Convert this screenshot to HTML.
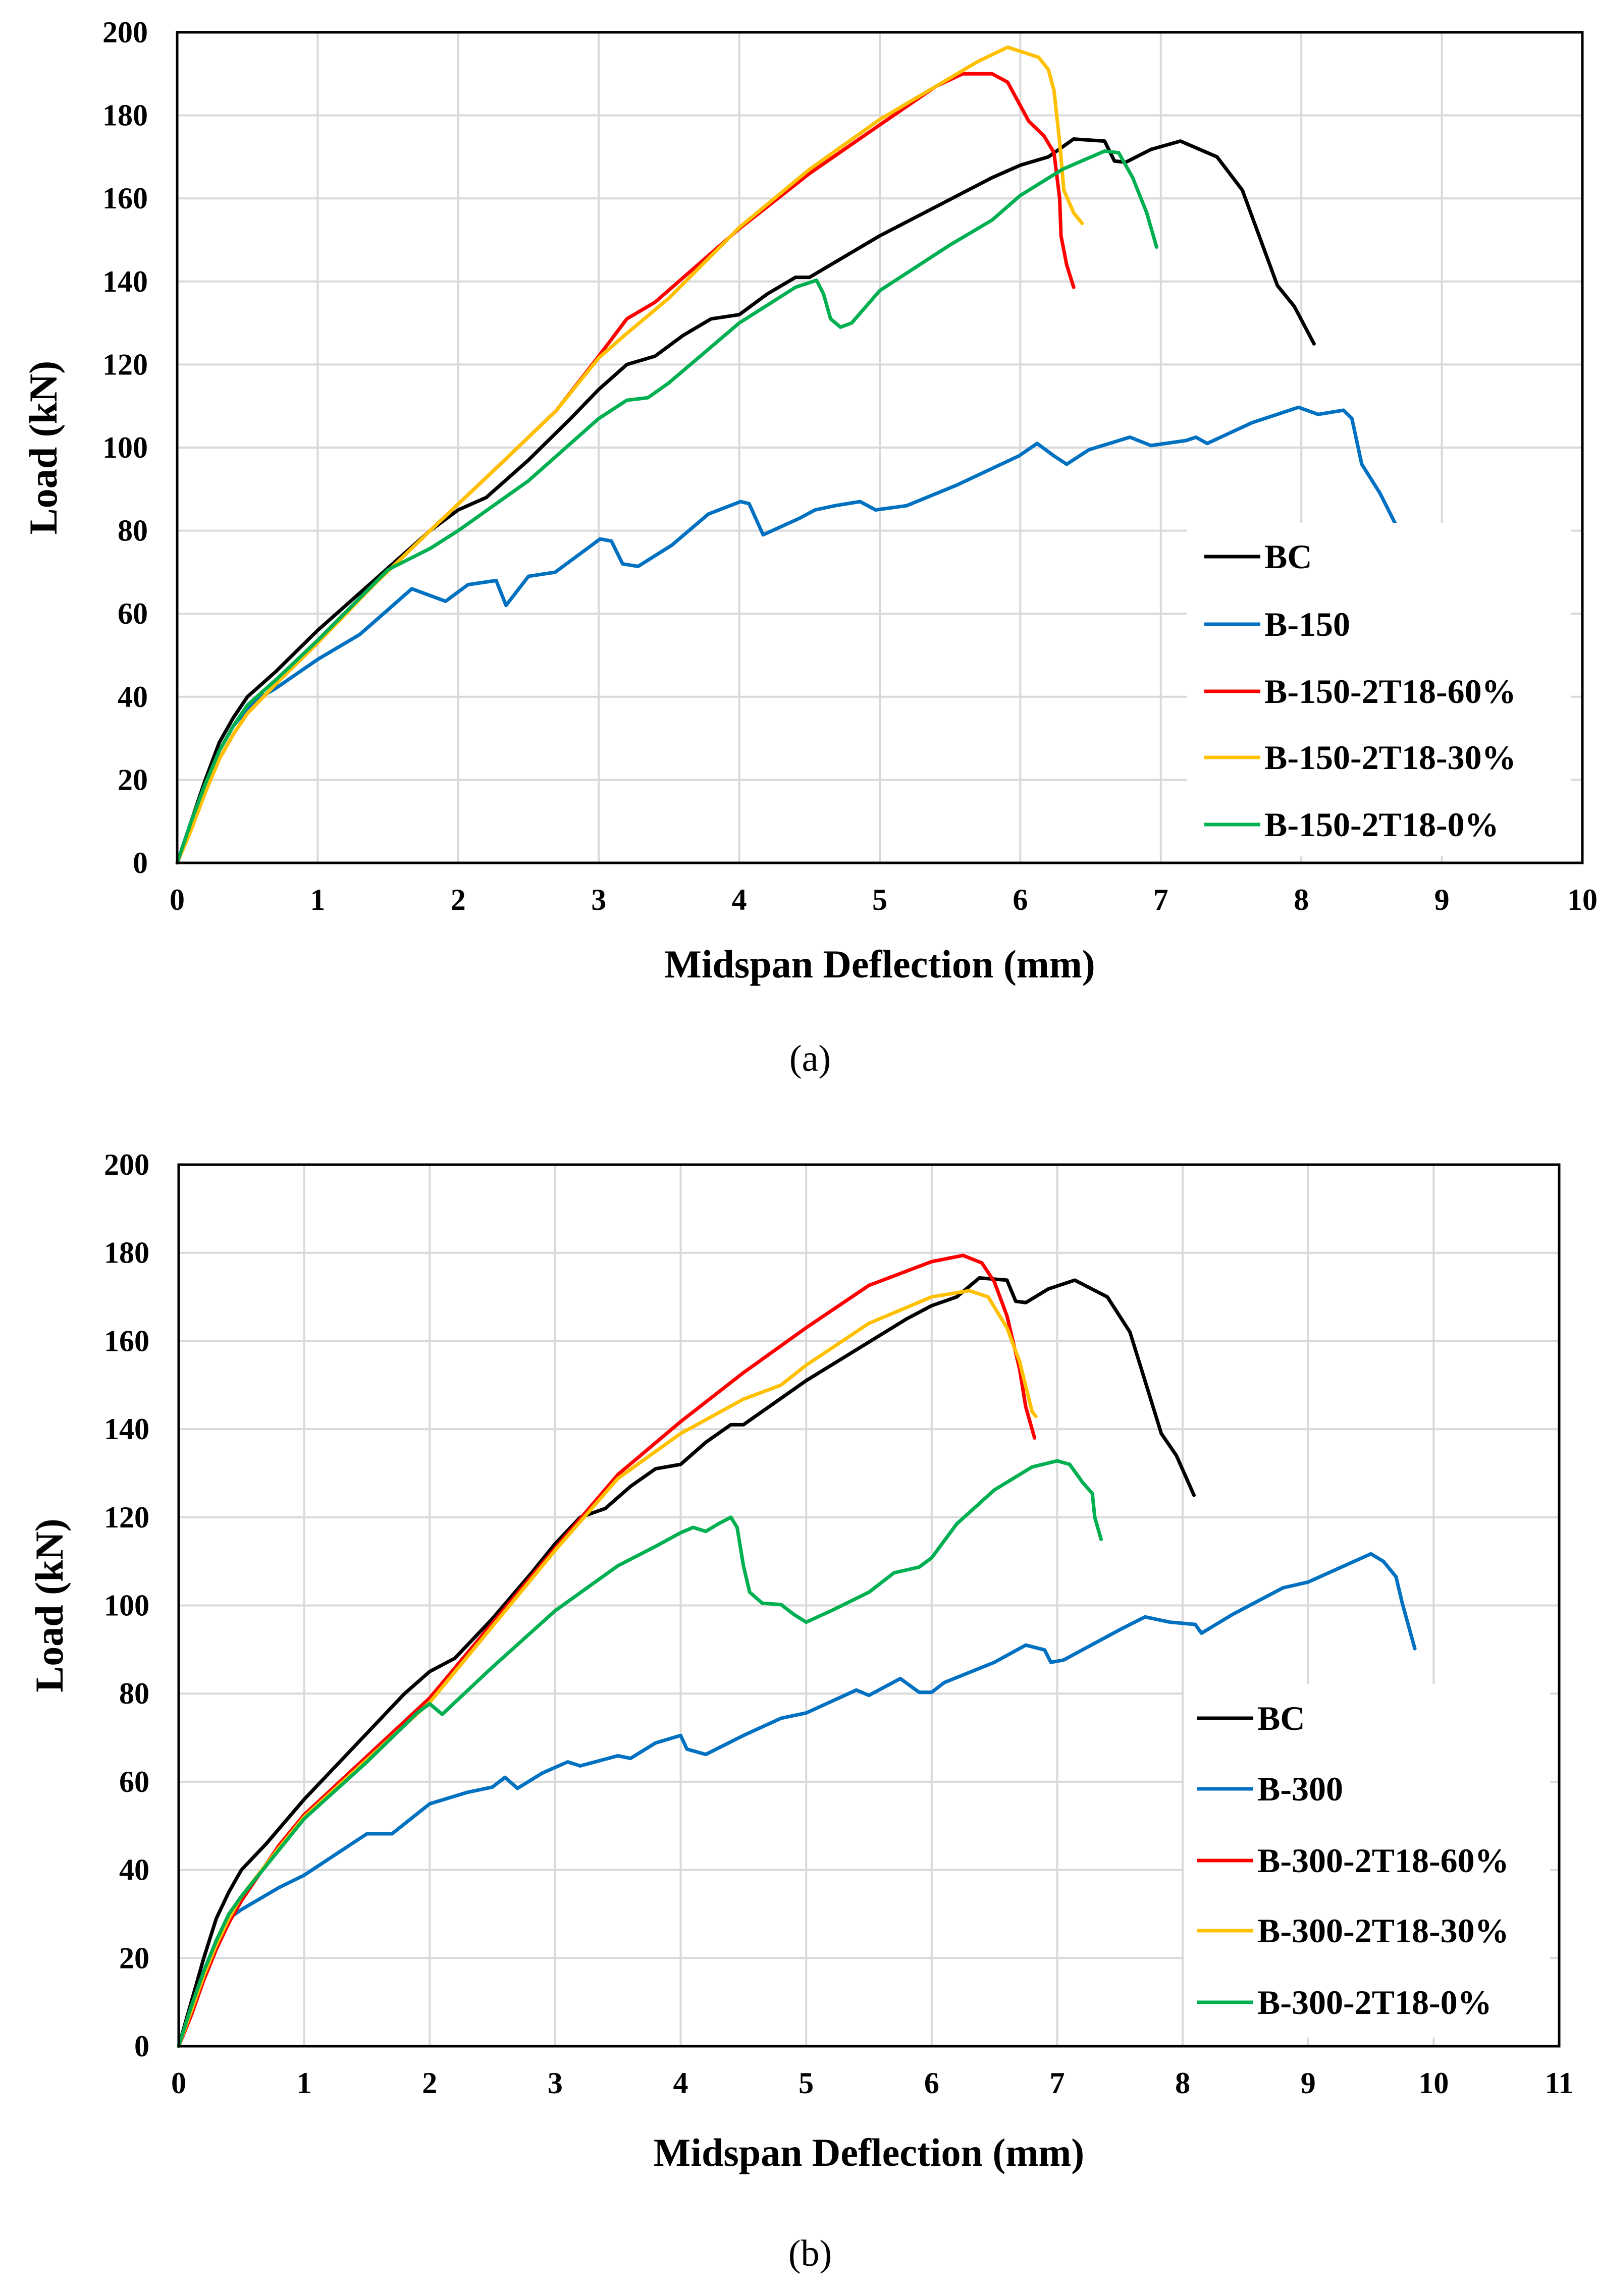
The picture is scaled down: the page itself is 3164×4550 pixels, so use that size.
<!DOCTYPE html>
<html><head><meta charset="utf-8"><style>
html,body{margin:0;padding:0;background:#fff}
svg{display:block}
text{font-family:"Liberation Serif",serif}
</style></head><body>
<svg id="fig" width="3164" height="4550" viewBox="0 0 3164 4550" xmlns="http://www.w3.org/2000/svg"></svg>
<script>
// ---------- data (x = midspan deflection mm, y = load kN) ----------
const xTicksA = [0,1,2,3,4,5,6,7,8,9,10];
const xTicksB = [0,1,2,3,4,5,6,7,8,9,10,11];
const yTicks = [0,20,40,60,80,100,120,140,160,180,200];

const bcX = [0,0.1,0.2,0.3,0.4,0.5,0.7,1,1.4,1.8,2,2.2,2.5,2.8,3,3.2,3.4,3.6,3.8,4,4.2,4.4,4.5,4.6,5,5.4,5.8,6,6.2,6.38,6.6,6.67,6.75,6.93,7.14,7.4,7.58,7.83,7.95,8.09];
const bcY = [0,10,20,29,35,40,46,56,68,80,85,88,97,107,114,120,122,127,131,132,137,141,141,143,151,158,165,168,170,174.3,173.8,169,168.7,171.8,173.8,170,162,139,134,125];

const b150X = [0,0.1,0.2,0.3,0.4,0.5,0.6,0.7,1,1.3,1.67,1.91,2.07,2.27,2.34,2.5,2.69,3.01,3.09,3.17,3.28,3.52,3.78,4.01,4.07,4.17,4.43,4.54,4.68,4.86,4.97,5.19,5.55,5.99,6.12,6.24,6.33,6.49,6.78,6.93,7.18,7.25,7.33,7.65,7.98,8.12,8.3,8.36,8.43,8.56,8.67];
const b150Y = [0,10,19,27,33,37,40,42,49,55,66,63,67,68,62,69,70,78,77.5,72,71.4,76.5,84,87,86.5,79,83,85,86,87,85,86,91,98,101,98,96,99.5,102.5,100.5,101.7,102.5,101,106,109.7,108,109,107,96,89,81.6];

const r150X = [0,0.1,0.2,0.3,0.4,0.5,0.7,1,1.4,1.8,2.3,2.7,3,3.2,3.4,4,4.5,5,5.4,5.59,5.8,5.91,5.99,6.06,6.17,6.24,6.28,6.29,6.33,6.38];
const r150Y = [0,8,17,25,31,36,43,53,67,80,96,109,122,131,135,152.7,166,177.7,187,190,190,188,183,178.6,175,171,160,151,144,138.6];

const y150X = [0,0.1,0.2,0.3,0.4,0.5,0.7,1,1.4,1.8,2.3,2.7,3,3.2,3.5,4,4.5,5,5.4,5.7,5.91,6.13,6.2,6.24,6.28,6.31,6.38,6.44];
const y150Y = [0,8,17,25,31,36,43,53,67,80,96,109,121.6,127.5,136,153,167,179,187,193,196.4,194,191,186,173.5,162,156.5,154];

const g150X = [0,0.1,0.2,0.3,0.4,0.5,0.7,1,1.5,1.8,2,2.5,3,3.2,3.35,3.5,4,4.4,4.55,4.6,4.65,4.72,4.8,5,5.5,5.8,6,6.3,6.6,6.7,6.8,6.9,6.97];
const g150Y = [0,10,19,27,33,38,44,53.6,70.6,75.7,80,92,107,111.4,112,115.6,130,138.6,140.3,137,131,129,130,137.8,148.8,154.8,160.7,167,171.4,171,165,156.5,148.3];

const b300X = [0,0.1,0.2,0.3,0.4,0.5,0.8,1,1.5,1.7,2,2.3,2.5,2.6,2.7,2.9,3.1,3.2,3.5,3.6,3.8,4,4.05,4.2,4.5,4.8,5,5.4,5.5,5.75,5.9,6,6.1,6.5,6.75,6.9,6.95,7.05,7.5,7.7,7.9,8.1,8.15,8.4,8.8,9,9.5,9.6,9.7,9.75,9.85];
const b300Y = [0,9,17,24,29,31,36,38.8,48.2,48.2,55,57.6,58.8,61,58.5,62,64.5,63.6,65.9,65.3,68.8,70.5,67.4,66.2,70.5,74.4,75.6,80.8,79.6,83.4,80.3,80.3,82.5,87.1,91,89.9,87.1,87.6,94.5,97.4,96.2,95.7,93.7,98,104,105.3,111.7,110,106.5,100.5,90.2];

const r300X = [0,0.1,0.2,0.3,0.4,0.5,0.8,1,2,3,3.5,4,4.5,5,5.5,6,6.25,6.4,6.5,6.6,6.7,6.75,6.82];
const r300Y = [0,7,15,22,28,33,45.6,52.5,79,113,129.7,141.7,152.8,163,172.6,178,179.4,177.7,173.4,165.7,153.7,145,138];

const y300X = [0,0.1,0.2,0.3,0.4,0.5,0.8,1,2,3,3.5,4,4.5,4.8,5,5.5,6,6.3,6.45,6.6,6.7,6.8,6.83];
const y300Y = [0,8,16,23,29,34,45,52,78,112.5,128.8,139,146.8,150,154.5,164,170,171.4,170,163,155.4,144,142.9];

const g300X = [0,0.1,0.2,0.3,0.4,0.5,1,1.5,1.9,2,2.1,2.5,3,3.5,3.8,4,4.1,4.2,4.3,4.4,4.45,4.5,4.55,4.65,4.8,4.9,5,5.2,5.5,5.7,5.9,6,6.2,6.5,6.8,7,7.1,7.2,7.28,7.3,7.35];
const g300Y = [0,9,17,24,30,34,51.6,64.5,75.6,77.7,75.3,86,98.8,109,113.4,116.5,117.7,116.8,118.5,120,117.7,109,103,100.5,100.2,98,96.2,98.8,103,107.4,108.7,110.8,118.5,126.2,131.4,132.8,132,128,125.4,120,115];

// ---------- drawing ----------
const NS = 'http://www.w3.org/2000/svg';
const svg = document.getElementById('fig');
function mk(tag, attrs, parent){
  const e = document.createElementNS(NS, tag);
  for (const k in attrs) e.setAttribute(k, attrs[k]);
  (parent||svg).appendChild(e);
  return e;
}
const COLORS = {bc:'#000000', base:'#0070c0', r:'#ff0000', y:'#ffc000', g:'#00b050'};

function chart(cfg){
  const g = mk('g', {});
  
  
  const L=cfg.left, R=cfg.right, T=cfg.top, B=cfg.bottom;
  const xmax = cfg.xTicks[cfg.xTicks.length-1];
  const sx = v => L + (R-L)*v/xmax;
  const sy = v => B - (B-T)*v/200;
  cfg.xTicks.forEach(t => {
    if (t===0) return;
    const l = mk('line', {x1:sx(t), x2:sx(t), y1:T, y2:B, stroke:'#d9d9d9', 'stroke-width':4}, g);
    
    
  });
  yTicks.forEach(t => {
    if (t===0) return;
    const l = mk('line', {x1:L, x2:R, y1:sy(t), y2:sy(t), stroke:'#d9d9d9', 'stroke-width':4}, g);
    
    
  });
  cfg.series.forEach(s => {
    const pts = s.x.map((v,i)=> sx(v).toFixed(1)+','+sy(s.y[i]).toFixed(1)).join(' ');
    const p = mk('polyline', {points:pts, fill:'none', stroke:s.color, 'stroke-width':7, 'stroke-linejoin':'round', 'stroke-linecap':'round'}, g);
    
    
  });
  const lb = mk('rect', {x:cfg.leg.x, y:cfg.leg.y, width:cfg.leg.w, height:cfg.leg.h, fill:'#fff'}, g);
  
  
  cfg.series.forEach((s,i) => {
    const yy = cfg.leg.ys[i];
    const eg = mk('g', {}, g);
    
    
    mk('line', {x1:cfg.leg.lx1, x2:cfg.leg.lx2, y1:yy, y2:yy, stroke:s.color, 'stroke-width':7}, eg);
    const t = mk('text', {x:cfg.leg.tx, y:yy+23, 'font-size':68, 'font-weight':'bold', fill:'#000'}, eg);
    t.textContent = s.label;
  });
  const f = mk('rect', {x:L, y:T, width:R-L, height:B-T, fill:'none', stroke:'#000', 'stroke-width':5}, g);
  
  
  yTicks.forEach(t => {
    const e = mk('text', {x:L-58, y:sy(t)+20, 'font-size':60, 'font-weight':'bold', 'text-anchor':'end'}, g);
    
    
    e.textContent = t;
  });
  cfg.xTicks.forEach(t => {
    const e = mk('text', {x:sx(t), y:B+93, 'font-size':60, 'font-weight':'bold', 'text-anchor':'middle'}, g);
    
    
    e.textContent = t;
  });
  const xt = mk('text', {x:(L+R)/2, y:cfg.xTitleY, 'font-size':78, 'font-weight':'bold', 'text-anchor':'middle'}, g);
  
  
  xt.textContent = 'Midspan Deflection (mm)';
  const yc = (T+B)/2;
  const yt = mk('text', {x:0, y:0, 'font-size':78, 'font-weight':'bold', 'text-anchor':'middle', transform:'translate('+(cfg.yTitleX)+','+yc+') rotate(-90)'}, g);
  
  
  yt.textContent = 'Load (kN)';
  const cap = mk('text', {x:1605, y:cfg.capY, 'font-size':74, 'text-anchor':'middle'}, g);
  
  
  cap.textContent = cfg.caption;
}

chart({
  name:'chart-a', left:351, right:3135, top:64, bottom:1710, xTicks:xTicksA,
  xTitleY:1937, yTitleX:112, capY:2122, caption:'(a)',
  leg:{x:2352, y:1036, w:760, h:660, lx1:2386, lx2:2497, tx:2505, ys:[1103,1237,1370,1501,1634]},
  series:[
    {key:'bc', label:'BC', color:COLORS.bc, x:bcX, y:bcY},
    {key:'b-150', label:'B-150', color:COLORS.base, x:b150X, y:b150Y},
    {key:'b-150-60', label:'B-150-2T18-60%', color:COLORS.r, x:r150X, y:r150Y},
    {key:'b-150-30', label:'B-150-2T18-30%', color:COLORS.y, x:y150X, y:y150Y},
    {key:'b-150-0', label:'B-150-2T18-0%', color:COLORS.g, x:g150X, y:g150Y}
  ]
});
chart({
  name:'chart-b', left:354, right:3089, top:2308, bottom:4055, xTicks:xTicksB,
  xTitleY:4292, yTitleX:124, capY:4490, caption:'(b)',
  leg:{x:2346, y:3338, w:725, h:700, lx1:2372, lx2:2483, tx:2491, ys:[3405,3545,3687,3826,3968]},
  series:[
    {key:'bc', label:'BC', color:COLORS.bc, x:bcX, y:bcY},
    {key:'b-300', label:'B-300', color:COLORS.base, x:b300X, y:b300Y},
    {key:'b-300-60', label:'B-300-2T18-60%', color:COLORS.r, x:r300X, y:r300Y},
    {key:'b-300-30', label:'B-300-2T18-30%', color:COLORS.y, x:y300X, y:y300Y},
    {key:'b-300-0', label:'B-300-2T18-0%', color:COLORS.g, x:g300X, y:g300Y}
  ]
});
</script>
</body></html>
